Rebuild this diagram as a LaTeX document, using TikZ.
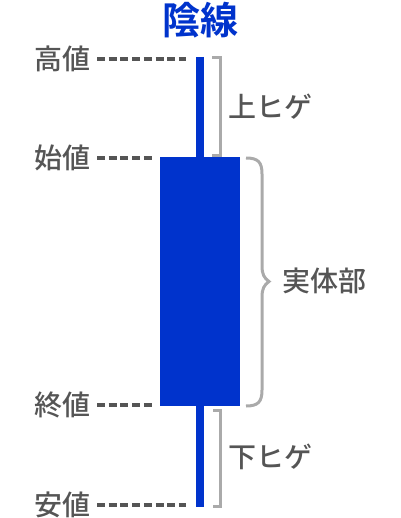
\documentclass[tikz,border=0pt]{standalone}
\usepackage{fontspec}
\newfontfamily\jp{Noto Sans CJK JP Medium}
\newfontfamily\jpbold{Noto Sans CJK JP Bold}
\usepackage{tikz}
\definecolor{candleblue}{HTML}{0033CC}
\definecolor{labelgray}{HTML}{555555}
\definecolor{bracegray}{HTML}{AAAAAA}
\tikzset{
  price/.style={anchor=east,inner sep=0pt,text=labelgray,font=\jp\fontsize{28}{28}\selectfont},
  part/.style={anchor=west,inner sep=0pt,text=labelgray,font=\jp\fontsize{28}{28}\selectfont},
  guide/.style={labelgray,line width=3.5pt,dash pattern=on 8pt off 3.7pt},
  bracket/.style={bracegray,line width=3pt}
}

\begin{document}
\begin{tikzpicture}[x=1pt,y=1pt]
\useasboundingbox (0,0) rectangle (400,-518);

\node[inner sep=0pt,text=candleblue,font=\jpbold\fontsize{38}{38}\selectfont] (title) at (200,-20) {陰線};

% wick and body
\coordinate (hi) at (200,-57);
\coordinate (lo) at (200,-507);
\draw[candleblue,line width=8pt] (hi) -- (lo);
\node[fill=candleblue,draw=none,minimum width=80pt,minimum height=249pt,inner sep=0pt] (body) at (200,-281.5) {};

% price labels
\node[price] (high) at (91,-59) {高値};
\node[price] (open) at (91,-158) {始値};
\node[price] (close) at (91,-405) {終値};
\node[price] (low) at (91,-505) {安値};

\coordinate (highend) at (186,-59);
\coordinate (openend) at (153,-158);
\coordinate (closeend) at (153,-405);
\coordinate (lowend) at (186,-505);
\draw[guide] ([xshift=6pt]high.east) -- (highend);
\draw[guide] ([xshift=6pt]open.east) -- (openend);
\draw[guide] ([xshift=6pt]close.east) -- (closeend);
\draw[guide] ([xshift=6pt]low.east) -- (lowend);

% upper shadow
\draw[bracket] (212,-58) -- (220,-58) -- (220,-156) -- (212,-156);
\node[part] (upper) at (228,-107) {上ヒゲ};

% real body
\draw[bracket] (246,-158) .. controls (258,-158) and (262,-162) .. (262,-174)
  -- (262,-266) .. controls (262,-274) and (264,-278) .. (269,-281.5)
  .. controls (264,-285) and (262,-289) .. (262,-297)
  -- (262,-390) .. controls (262,-402) and (258,-406) .. (246,-406);
\node[part] (real) at (282,-281) {実体部};

% lower shadow
\draw[bracket] (213,-410) -- (220,-410) -- (220,-506) -- (213,-506);
\node[part] (lower) at (228,-457) {下ヒゲ};
\end{tikzpicture}
\end{document}
